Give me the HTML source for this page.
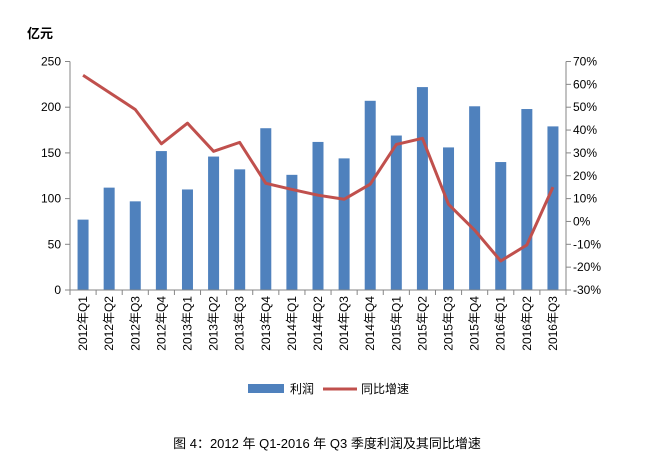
<!DOCTYPE html>
<html><head><meta charset="utf-8"><style>
body{margin:0;background:#fff;}
svg text{font-family:"Liberation Sans","Noto Sans CJK SC",sans-serif;}
</style></head><body>
<svg id="chart" width="654" height="470" xmlns="http://www.w3.org/2000/svg">
<text x="27" y="38" font-size="13" font-weight="bold">亿元</text>
<g id="bars"></g><g id="axes"></g><g id="line"></g>
<g>
<rect x="248" y="384" width="36" height="9" fill="#4f81bd"/>
<text x="290" y="393" font-size="12">利润</text>
<line x1="323" y1="389" x2="357" y2="389" stroke="#c0504d" stroke-width="3"/>
<text x="361" y="393" font-size="12">同比增速</text>
</g>
<text x="327" y="448" font-size="13" text-anchor="middle" font-family="Liberation Serif,Noto Serif CJK SC,serif">图 4：2012 年 Q1-2016 年 Q3 季度利润及其同比增速</text>
</svg>
<script>
const categories=["2012年Q1","2012年Q2","2012年Q3","2012年Q4","2013年Q1","2013年Q2","2013年Q3","2013年Q4","2014年Q1","2014年Q2","2014年Q3","2014年Q4","2015年Q1","2015年Q2","2015年Q3","2015年Q4","2016年Q1","2016年Q2","2016年Q3"];
const profit=[77,112,97,152,110,146,132,177,126,162,144,207,169,222,156,201,140,198,179];
const growth=[64,56.5,49,34,43,30.7,34.6,16.7,14,11.5,9.7,16.3,33.7,36.4,7.5,-3.8,-17.3,-10.3,15];
const leftTicks=[0,50,100,150,200,250];
const rightTicks=[-30,-20,-10,0,10,20,30,40,50,60,70];
const NS="http://www.w3.org/2000/svg";
const L=70,R=566,T=61.5,B=290;
const bw=(R-L)/categories.length;
const yL=v=>B-(v/250)*(B-T);
const yR=v=>B-((v+30)/100)*(B-T);
const xC=i=>L+bw*(i+0.5);
function mk(tag,attrs,parent){const e=document.createElementNS(NS,tag);for(const k in attrs)e.setAttribute(k,attrs[k]);parent.appendChild(e);return e;}
const axes=document.getElementById('axes'),bars=document.getElementById('bars'),lineG=document.getElementById('line');
profit.forEach((v,i)=>{const r=mk('rect',{x:xC(i)-5.5,y:yL(v),width:11,height:B-yL(v),fill:'#4f81bd'},bars);

});
const ax=mk('path',{d:`M${L},${T}V${B}H${R}V${T}`,stroke:'#868686',fill:'none'},axes);


leftTicks.forEach(v=>{mk('line',{x1:L-5,x2:L,y1:yL(v),y2:yL(v),stroke:'#868686'},axes);
const t=mk('text',{x:L-9,y:yL(v)+4,'font-size':12,'text-anchor':'end'},axes);t.textContent=v;

});
rightTicks.forEach(v=>{mk('line',{x1:R,x2:R+5,y1:yR(v),y2:yR(v),stroke:'#868686'},axes);
const t=mk('text',{x:R+7,y:yR(v)+4,'font-size':12},axes);t.textContent=v+'%';

});
categories.forEach((c,i)=>{const x=L+bw*(i+1);mk('line',{x1:x,x2:x,y1:B,y2:B+5,stroke:'#868686'},axes);
const t=mk('text',{x:0,y:0,'font-size':12,'text-anchor':'end',transform:`translate(${xC(i)+4},${B+6}) rotate(-90)`},axes);t.textContent=c;

});
mk('line',{x1:L,x2:L,y1:B,y2:B+5,stroke:'#868686'},axes);
const pl=mk('polyline',{points:growth.map((v,i)=>xC(i)+','+yR(v)).join(' '),fill:'none',stroke:'#c0504d','stroke-width':3,'stroke-linejoin':'round'},lineG);


</script>
</body></html>
